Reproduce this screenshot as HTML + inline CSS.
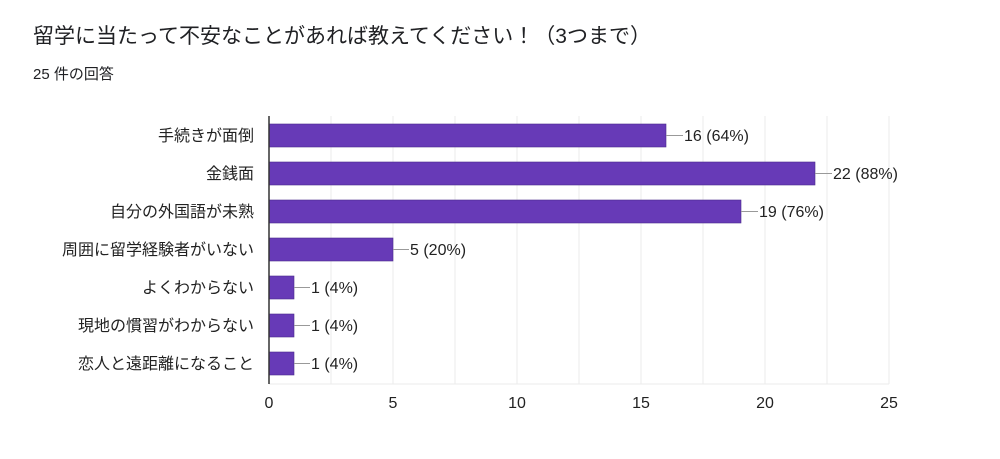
<!DOCTYPE html>
<html><head><meta charset="utf-8"><style>
body{margin:0;background:#fff;}
svg{display:block;font-family:"Liberation Sans","Noto Sans CJK JP",sans-serif;}
</style></head><body>
<svg width="1000" height="459" xmlns="http://www.w3.org/2000/svg">
<rect width="1000" height="459" fill="#fff"/>
<text x="33" y="43" font-size="21" fill="#202124">留学に当たって不安なことがあれば教えてください！（3つまで）</text>
<text x="33" y="79" font-size="15" fill="#202124">25 件の回答</text>
<g stroke="#ebebeb" stroke-width="1">
<line x1="331" y1="116" x2="331" y2="384"/><line x1="393" y1="116" x2="393" y2="384"/>
<line x1="455" y1="116" x2="455" y2="384"/><line x1="517" y1="116" x2="517" y2="384"/>
<line x1="579" y1="116" x2="579" y2="384"/><line x1="641" y1="116" x2="641" y2="384"/>
<line x1="703" y1="116" x2="703" y2="384"/><line x1="765" y1="116" x2="765" y2="384"/>
<line x1="827" y1="116" x2="827" y2="384"/><line x1="889" y1="116" x2="889" y2="384"/>
<line x1="269" y1="384" x2="889" y2="384"/>
</g>
<g fill="#673ab7" stroke="#4a2a8a" stroke-width="0.6">
<rect x="269" y="124" width="397" height="23"/>
<rect x="269" y="162" width="546" height="23"/>
<rect x="269" y="200" width="472" height="23"/>
<rect x="269" y="238" width="124" height="23"/>
<rect x="269" y="276" width="25" height="23"/>
<rect x="269" y="314" width="25" height="23"/>
<rect x="269" y="352" width="25" height="23"/>
</g>
<line x1="269" y1="116" x2="269" y2="384" stroke="#333" stroke-width="1.5"/>
<g stroke="#999" stroke-width="1">
<line x1="666" y1="135.5" x2="683" y2="135.5"/><line x1="815" y1="173.5" x2="832" y2="173.5"/>
<line x1="741" y1="211.5" x2="758" y2="211.5"/><line x1="393" y1="249.5" x2="409" y2="249.5"/>
<line x1="294" y1="287.5" x2="310" y2="287.5"/><line x1="294" y1="325.5" x2="310" y2="325.5"/>
<line x1="294" y1="363.5" x2="310" y2="363.5"/>
</g>
<g font-size="16" fill="#222">
<text x="684" y="141">16 (64%)</text><text x="833" y="179">22 (88%)</text>
<text x="759" y="217">19 (76%)</text><text x="410" y="255">5 (20%)</text>
<text x="311" y="293">1 (4%)</text><text x="311" y="331">1 (4%)</text><text x="311" y="369">1 (4%)</text>
</g>
<g font-size="16" fill="#222" text-anchor="end">
<text x="254" y="141">手続きが面倒</text><text x="254" y="179">金銭面</text>
<text x="254" y="217">自分の外国語が未熟</text><text x="254" y="255">周囲に留学経験者がいない</text>
<text x="254" y="293">よくわからない</text><text x="254" y="331">現地の慣習がわからない</text>
<text x="254" y="369">恋人と遠距離になること</text>
</g>
<g font-size="16" fill="#222" text-anchor="middle">
<text x="269" y="408">0</text><text x="393" y="408">5</text><text x="517" y="408">10</text>
<text x="641" y="408">15</text><text x="765" y="408">20</text><text x="889" y="408">25</text>
</g>
</svg>
</body></html>
